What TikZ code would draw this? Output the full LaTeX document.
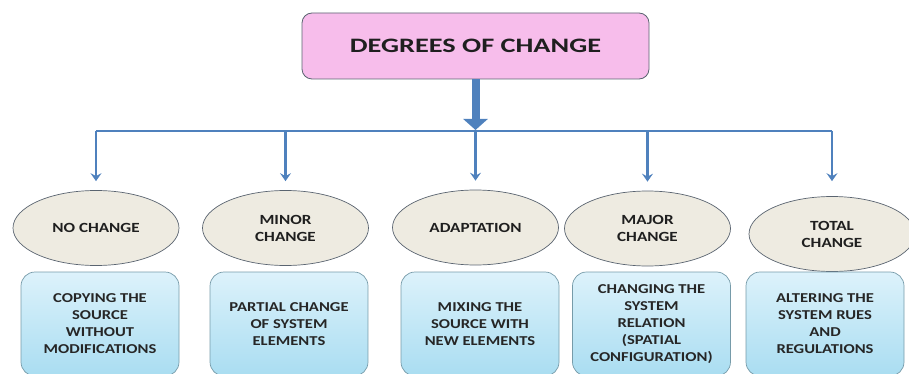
\documentclass[tikz,border=0pt]{standalone}
\usepackage{fontspec}
\setmainfont{Carlito}
\newfontfamily\headfont[FakeStretch=1.38]{Carlito}
\newfontfamily\labelfont[FakeStretch=1.22]{Carlito}
\usetikzlibrary{shapes,arrows.meta,positioning,calc}

\definecolor{linkblue}{HTML}{4F81BD}
\definecolor{headpink}{HTML}{F7BDEB}
\definecolor{ovalgrey}{HTML}{EEEBE1}
\definecolor{boxtop}{HTML}{DDF2FB}
\definecolor{boxbottom}{HTML}{A9DDF1}
\definecolor{edgegrey}{HTML}{5A6470}

\tikzset{
  headbox/.style={draw=edgegrey, line width=0.8pt, fill=headpink, rounded corners=10pt,
    minimum width=347pt, minimum height=66pt, text=black!88,
    font=\headfont\bfseries\fontsize{20.5}{24}\selectfont},
  degree/.style={ellipse, draw=edgegrey, line width=0.7pt, fill=ovalgrey,
    minimum width=166pt, minimum height=75pt, inner sep=1pt, align=center, text=black!88,
    font=\labelfont\bfseries\fontsize{14}{17}\selectfont},
  detail/.style={draw=boxbottom!70!black, line width=0.7pt, rounded corners=14pt,
    top color=boxtop, bottom color=boxbottom, minimum width=158pt, minimum height=104pt,
    align=center, text=black!85, font=\labelfont\bfseries\fontsize{13.6}{17}\selectfont},
  branch/.style={draw=linkblue, line width=2.4pt,
    -{Stealth[width=11pt,length=8pt,inset=3pt]}, shorten >=9pt},
  trunk/.style={draw=linkblue, line width=8pt, -{Triangle[width=24pt,length=11pt]}},
}

\begin{document}
\begin{tikzpicture}[x=1pt, y=-1pt]
  \useasboundingbox (0,0) rectangle (909,374);

  % heading
  \node[headbox] (head) at (475.5,46) {DEGREES OF CHANGE};

  % the five degrees
  \node[degree] (none)  at (96,228)    {NO CHANGE};
  \node[degree] (minor) at (285.5,228) {MINOR\\CHANGE};
  \node[degree] (adapt) at (475.5,227.5) {ADAPTATION};
  \node[degree] (major) at (647.5,228.5) {MAJOR\\CHANGE};
  \node[degree] (total) at (832,234)   {TOTAL\\CHANGE};

  % what each degree means
  \node[detail] (copy)  at (100,324) {COPYING THE\\SOURCE\\WITHOUT\\MODIFICATIONS};
  \node[detail] (part)  at (289,324) {PARTIAL CHANGE\\OF SYSTEM\\ELEMENTS};
  \node[detail] (mix)   at (480,324) {MIXING THE\\SOURCE WITH\\NEW ELEMENTS};
  \node[detail] (rel)   at (651.5,324) {CHANGING THE\\SYSTEM\\RELATION\\(SPATIAL\\CONFIGURATION)};
  \node[detail] (rules) at (825,324) {ALTERING THE\\SYSTEM RUES\\AND\\REGULATIONS};

  % distribution bar
  \coordinate (bar) at (head.south |- 0,131);
  \coordinate (barL) at (none.north |- bar);
  \coordinate (barR) at (total.north |- bar);
  \draw[draw=linkblue, line width=2.4pt] (barL) -- (barR);
  \draw[trunk] (head.south) -- ($(bar)+(0,-1)$);

  \draw[branch] (barL) -- (none.north);
  \draw[branch] (minor.north |- bar) -- (minor.north);
  \draw[branch] (bar) -- (adapt.north);
  \draw[branch] (major.north |- bar) -- (major.north);
  \draw[branch, shorten >=15pt] (barR) -- (total.north);
\end{tikzpicture}
\end{document}
